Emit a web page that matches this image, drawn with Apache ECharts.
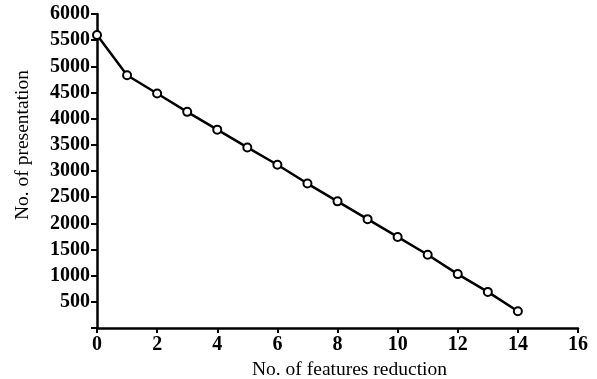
<!DOCTYPE html>
<html><head><meta charset="utf-8">
<script src="https://cdn.jsdelivr.net/npm/echarts@6/dist/echarts.min.js"></script>
<style>html,body{margin:0;padding:0;background:#fff}#c{width:597px;height:379px}</style>
</head><body><div id="c"></div>
<script>
const xValues = [0,1,2,3,4,5,6,7,8,9,10,11,12,13,14];
const yValues = [5600,4830,4480,4130,3790,3450,3120,2760,2420,2080,1740,1400,1030,690,320];
const xTitle = 'No. of features reduction';
const yTitle = 'No. of presentation';
const font = 'Liberation Serif';
const chart = echarts.init(document.getElementById('c'));
chart.setOption({
  animation: false,
  grid: {left: 97, right: 19, top: 14, bottom: 51, containLabel: false, outerBoundsMode: 'none'},
  xAxis: {
    type: 'value', min: 0, max: 16, interval: 2,
    name: xTitle, nameLocation: 'middle', nameGap: 28,
    nameTextStyle: {fontFamily: font, fontSize: 19.5, color: '#000', padding: [0, 0, 0, 24]},
    axisLine: {onZero: false, lineStyle: {color: '#000', width: 2.5}},
    axisTick: {length: 5, lineStyle: {color: '#000', width: 2}},
    axisLabel: {fontFamily: font, fontSize: 20, color: '#000', fontWeight: 'bold', margin: 7},
    splitLine: {show: false}
  },
  yAxis: {
    type: 'value', min: 0, max: 6000, interval: 500,
    name: yTitle, nameLocation: 'middle', nameGap: 64, nameRotate: 90,
    nameTextStyle: {fontFamily: font, fontSize: 19.5, color: '#000', padding: [0, 0, 0, 52]},
    axisLine: {lineStyle: {color: '#000', width: 2.5}},
    axisTick: {length: 6, lineStyle: {color: '#000', width: 2}},
    axisLabel: {fontFamily: font, fontSize: 20, color: '#000', fontWeight: 'bold', margin: 7,
      formatter: v => v === 0 ? '' : String(v)},
    splitLine: {show: false}
  },
  series: [{
    type: 'line',
    data: xValues.map((x, i) => [x, yValues[i]]),
    symbol: 'emptyCircle', symbolSize: 8,
    lineStyle: {color: '#000', width: 2.5},
    itemStyle: {color: '#000', borderColor: '#000', borderWidth: 2}
  }]
});
</script></body></html>
